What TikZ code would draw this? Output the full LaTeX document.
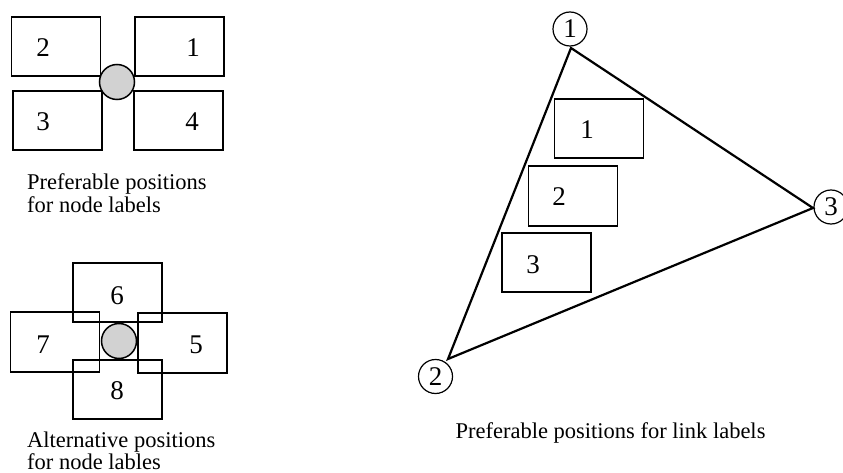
\documentclass[tikz,border=0pt]{standalone}
\usepackage{fontspec}
\setmainfont{Liberation Serif}
\begin{document}
\begin{tikzpicture}[x=1pt,y=-1pt,
  lbox/.style={draw, line width=1.5pt, rectangle, inner sep=0pt,
    minimum width=89pt},
  num/.style={font=\fontsize{27}{27}\selectfont, inner sep=0pt},
  dot/.style={circle, draw, line width=1.5pt, fill=gray!35,
    minimum size=35pt, inner sep=0pt},
  vert/.style={circle, draw, line width=1.2pt, minimum size=34pt,
    inner sep=0pt, font=\fontsize{27}{27}\selectfont},
  captext/.style={font=\fontsize{22.5}{23}\selectfont, inner sep=0pt,
    align=left, anchor=base west},
  triedge/.style={line width=2.2pt}]
\useasboundingbox (0,0) rectangle (843,473);

% --- preferable node label positions
\node[lbox, minimum height=59pt] (p2) at (56,46.5) {};
\node[lbox, minimum height=59pt] (p1) at (179.5,46.5) {};
\node[lbox, minimum height=59pt] (p3) at (57.5,120.5) {};
\node[lbox, minimum height=59pt] (p4) at (178.5,120.5) {};
\node[num] (t2) at (43,48) {2};
\node[num] (t1) at (193,48) {1};
\node[num] (t3) at (43,122) {3};
\node[num] (t4) at (192,122) {4};
\node[dot] (n1) at (117,82) {};
% the base anchor of a two-line node sits on its last line
\node[captext] (c1) at (27,213) {Preferable positions\\for node labels};

% --- alternative node label positions
\node[lbox, minimum height=59pt] (a6) at (117.5,292.5) {};
\node[lbox, minimum height=60pt] (a7) at (55,342) {};
\node[lbox, minimum height=60pt] (a5) at (182.5,343) {};
\node[lbox, minimum height=59pt] (a8) at (117.5,389.5) {};
\node[num] (t6) at (117,296) {6};
\node[num] (t7) at (43,345) {7};
\node[num] (t5) at (196,345) {5};
\node[num] (t8) at (117,391) {8};
\node[dot] (n2) at (119,341) {};
\node[captext, font=\fontsize{22.5}{22}\selectfont] (c2) at (27,469.5) {Alternative positions\\for node lables};

% --- preferable link label positions
\node[vert] (v1) at (570,29) {1};
\node[vert] (v2) at (435.5,376.5) {2};
\node[vert] (v3) at (831,207) {3};
\coordinate (e1) at (571,48);
\coordinate (e2) at (448,359);
\coordinate (e3) at (813,208);
\draw[triedge, line join=miter] (e1) -- (e2) -- (e3) -- cycle;

\node[lbox, minimum height=59pt] (l1) at (599,128.5) {};
\node[lbox, minimum height=60pt] (l2) at (573,196) {};
\node[lbox, minimum height=59pt] (l3) at (546.5,262.5) {};
\node[num] (u1) at (587,130) {1};
\node[num] (u2) at (559,197) {2};
\node[num] (u3) at (533,265) {3};
\node[captext, anchor=base] (c3) at (610.5,438) {Preferable positions for link labels};
\end{tikzpicture}
\end{document}
